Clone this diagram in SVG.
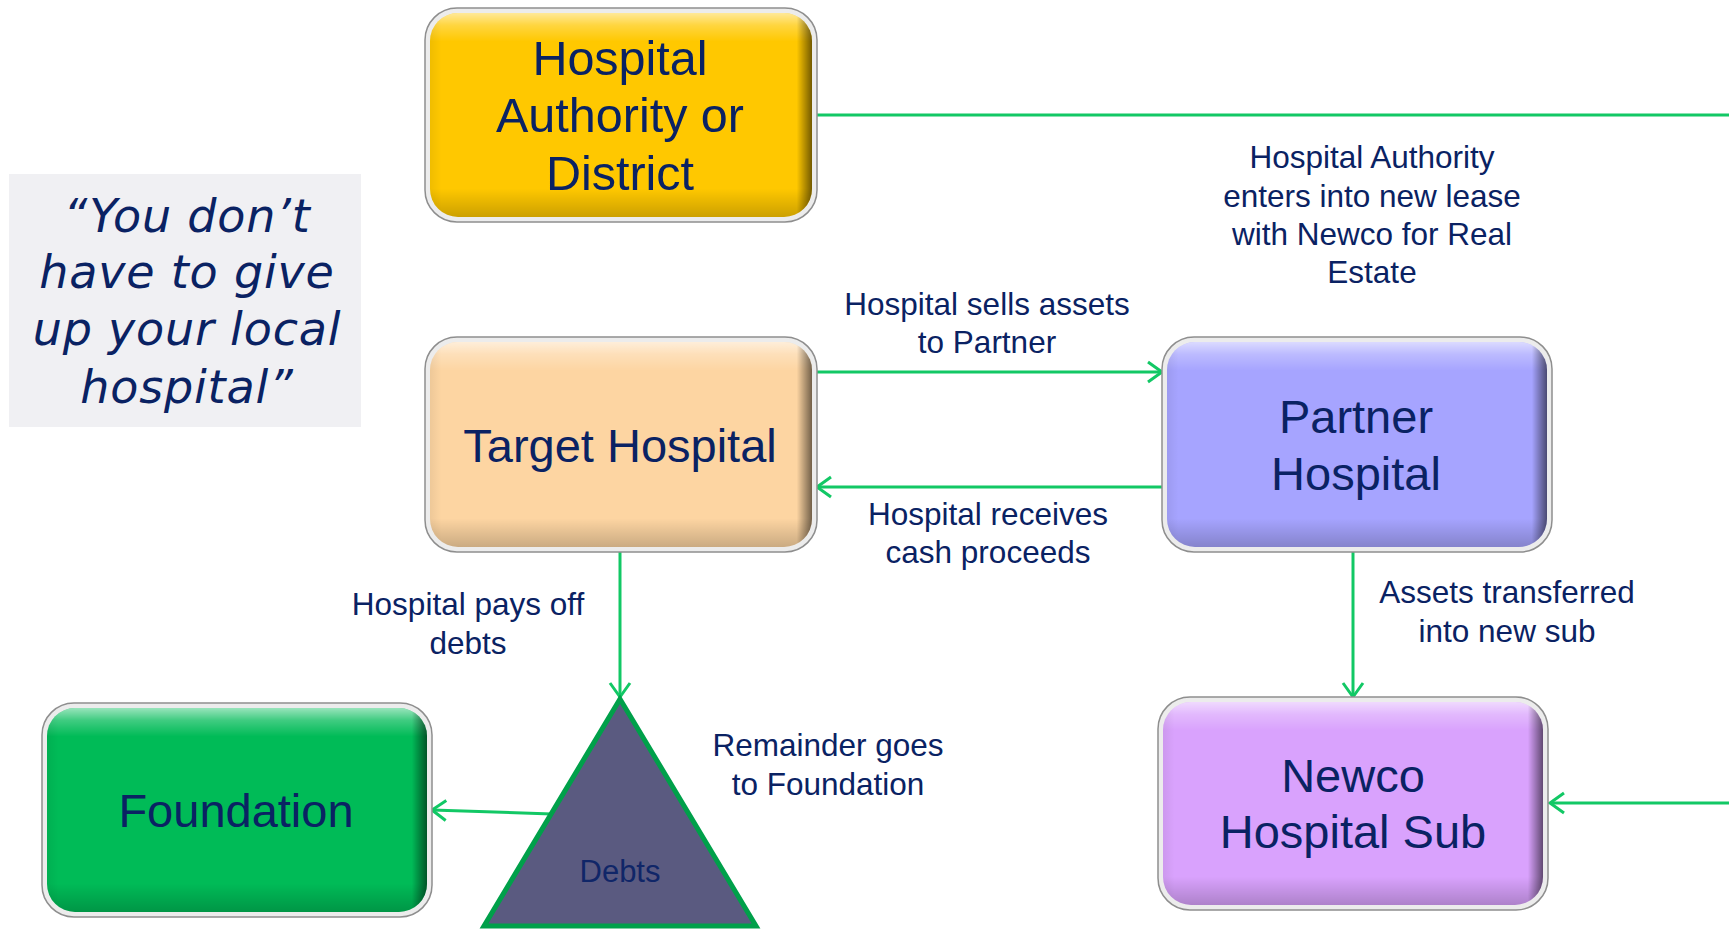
<svg xmlns="http://www.w3.org/2000/svg" width="1729" height="930" viewBox="0 0 1729 930">
<style>
.rim{fill:#ececec;stroke:#8e8e8e;stroke-width:1.5}
.ntext{font-family:"Liberation Sans",Arial,sans-serif;font-size:47px;fill:#0a2263;text-anchor:middle}
.big{font-size:48.5px}
.lbl{font-family:"Liberation Sans",Arial,sans-serif;font-size:31.5px;fill:#0a2263;text-anchor:middle}
.quote{font-family:"DejaVu Sans",Verdana,sans-serif;font-style:italic;font-size:46px;letter-spacing:0.8px;fill:#0a2263;text-anchor:middle}
.conn{stroke:#12c865;stroke-width:3;fill:none}
</style>
<defs>
<linearGradient id="gloss" x1="0" y1="0" x2="0" y2="1">
<stop offset="0" stop-color="#fff" stop-opacity="0.6"/>
<stop offset="0.06" stop-color="#fff" stop-opacity="0.25"/>
<stop offset="0.14" stop-color="#fff" stop-opacity="0"/>
<stop offset="0.86" stop-color="#000" stop-opacity="0"/>
<stop offset="1" stop-color="#000" stop-opacity="0.2"/>
</linearGradient>
<linearGradient id="rshade" x1="0" y1="0" x2="1" y2="0">
<stop offset="0" stop-color="#000" stop-opacity="0.06"/>
<stop offset="0.03" stop-color="#000" stop-opacity="0"/>
<stop offset="0.96" stop-color="#000" stop-opacity="0"/>
<stop offset="1" stop-color="#000" stop-opacity="0.55"/>
</linearGradient>
<marker id="arr" markerUnits="userSpaceOnUse" markerWidth="24" markerHeight="24" viewBox="0 0 24 24" refX="20" refY="12" orient="auto">
<path d="M6,2 L20,12 L6,22" fill="none" stroke="#12c865" stroke-width="3"/>
</marker>
</defs>
<rect width="1729" height="930" fill="#fff"/>

<g id="quote">
<rect x="9" y="174" width="352" height="253" fill="#f0f0f3"/>
<text class="quote" x="187" y="232">“You don’t</text>
<text class="quote" x="187" y="288">have to give</text>
<text class="quote" x="187" y="345">up your local</text>
<text class="quote" x="187" y="403">hospital”</text>
</g>

<g id="connectors">
<line class="conn" x1="817" y1="115" x2="1729" y2="115"/>
<line class="conn" x1="1729" y1="803" x2="1550" y2="803" marker-end="url(#arr)"/>
<line class="conn" x1="817" y1="372" x2="1162" y2="372" marker-end="url(#arr)"/>
<line class="conn" x1="1162" y1="487" x2="817" y2="487" marker-end="url(#arr)"/>
<line class="conn" x1="620" y1="552" x2="620" y2="697" marker-end="url(#arr)"/>
<line class="conn" x1="1353" y1="552" x2="1353" y2="697" marker-end="url(#arr)"/>
<line class="conn" x1="552" y1="814" x2="432" y2="810" marker-end="url(#arr)"/>
</g>

<g id="auth">
<rect class="rim" x="425" y="8" width="392" height="214" rx="32"/>
<rect x="430" y="13" width="382" height="204" rx="28" fill="#ffc800"/>
<rect x="430" y="13" width="382" height="204" rx="28" fill="url(#gloss)"/>
<rect x="430" y="13" width="382" height="204" rx="28" fill="url(#rshade)"/>
<text class="ntext big" x="620" y="75">Hospital</text>
<text class="ntext big" x="620" y="132">Authority or</text>
<text class="ntext big" x="620" y="190">District</text>
</g>

<g id="target">
<rect class="rim" x="425" y="337" width="392" height="215" rx="32"/>
<rect x="430" y="342" width="382" height="205" rx="28" fill="#fdd5a2"/>
<rect x="430" y="342" width="382" height="205" rx="28" fill="url(#gloss)"/>
<rect x="430" y="342" width="382" height="205" rx="28" fill="url(#rshade)"/>
<text class="ntext" x="620" y="462">Target Hospital</text>
</g>

<g id="partner">
<rect class="rim" x="1162" y="337" width="390" height="215" rx="32"/>
<rect x="1167" y="342" width="380" height="205" rx="28" fill="#a6a4ff"/>
<rect x="1167" y="342" width="380" height="205" rx="28" fill="url(#gloss)"/>
<rect x="1167" y="342" width="380" height="205" rx="28" fill="url(#rshade)"/>
<text class="ntext" x="1356" y="433">Partner</text>
<text class="ntext" x="1356" y="490">Hospital</text>
</g>

<g id="foundation">
<rect class="rim" x="42" y="703" width="390" height="214" rx="32"/>
<rect x="47" y="708" width="380" height="204" rx="28" fill="#00bb57"/>
<rect x="47" y="708" width="380" height="204" rx="28" fill="url(#gloss)"/>
<rect x="47" y="708" width="380" height="204" rx="28" fill="url(#rshade)"/>
<text class="ntext" x="236" y="827">Foundation</text>
</g>

<g id="newco">
<rect class="rim" x="1158" y="697" width="390" height="213" rx="32"/>
<rect x="1163" y="702" width="380" height="203" rx="28" fill="#d9a2fd"/>
<rect x="1163" y="702" width="380" height="203" rx="28" fill="url(#gloss)"/>
<rect x="1163" y="702" width="380" height="203" rx="28" fill="url(#rshade)"/>
<text class="ntext" x="1353" y="792">Newco</text>
<text class="ntext" x="1353" y="848">Hospital Sub</text>
</g>

<g id="debts">
<polygon points="620,699 484,926 756,926" fill="#5a5a80" stroke="#00a04a" stroke-width="5" stroke-linejoin="miter"/>
<text x="620" y="882" font-family="Liberation Sans, Arial, sans-serif" font-size="31px" fill="#102668" text-anchor="middle">Debts</text>
</g>

<g id="labels">
<text class="lbl" x="1372" y="168">Hospital Authority</text>
<text class="lbl" x="1372" y="207">enters into new lease</text>
<text class="lbl" x="1372" y="245">with Newco for Real</text>
<text class="lbl" x="1372" y="283">Estate</text>
<text class="lbl" x="987" y="315">Hospital sells assets</text>
<text class="lbl" x="987" y="353">to Partner</text>
<text class="lbl" x="988" y="525">Hospital receives</text>
<text class="lbl" x="988" y="563">cash proceeds</text>
<text class="lbl" x="468" y="615">Hospital pays off</text>
<text class="lbl" x="468" y="654">debts</text>
<text class="lbl" x="1507" y="603">Assets transferred</text>
<text class="lbl" x="1507" y="642">into new sub</text>
<text class="lbl" x="828" y="756">Remainder goes</text>
<text class="lbl" x="828" y="795">to Foundation</text>
</g>
</svg>
